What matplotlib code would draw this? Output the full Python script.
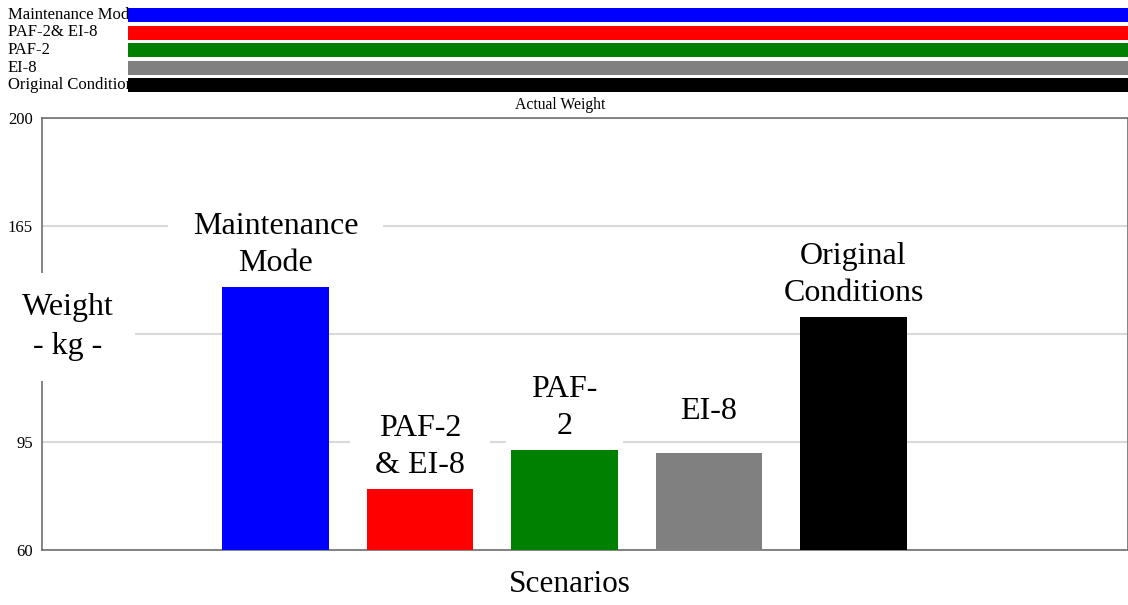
import matplotlib
matplotlib.use("Agg")
import matplotlib.pyplot as plt
import matplotlib.transforms as mtransforms
from matplotlib.path import Path

# scenario data
scenarios = ["Maintenance Mode", "PAF-2& EI-8", "PAF-2", "EI-8", "Original Conditions"]
bar_labels = ["Maintenance\nMode", "PAF-2\n& EI-8", "PAF-\n2", "EI-8", "Original\nConditions"]
weights = [145.3, 79.8, 92.4, 91.4, 135.6]
colors = ["#0000ff", "#ff0000", "#008000", "#808080", "#000000"]
y_ticks = [60, 95, 165, 200]
hidden_tick = [130]  # grid line only, its label sits under the axis title

plt.rcParams["font.family"] = ["Liberation Serif", "DejaVu Serif"]


def wide_box(x0, y0, width, height, mutation_size):
    # white box wider than it is tall, like the original label boxes
    px, py = 0.78 * mutation_size, 0.2 * mutation_size
    x0, y0 = x0 - px, y0 - py
    x1, y1 = x0 + width + 2 * px, y0 + height + 2 * py
    return Path([(x0, y0), (x1, y0), (x1, y1), (x0, y1), (x0, y0)], closed=True)


W, H = 1128, 605
fig = plt.figure(figsize=(W / 100, H / 100), dpi=100)

# main axes, placed in pixels
ax = fig.add_axes([42 / W, (H - 550) / H, 1086 / W, 432 / H])
x = list(range(len(scenarios)))
ax.bar(x, weights, width=0.735, color=colors, zorder=3)
ax.set_xlim(-1.616, 5.9)
ax.set_ylim(60, 200)
ax.set_yticks(y_ticks)
ax.set_yticks(hidden_tick, minor=True)
ax.set_xticks([])
ax.tick_params(axis="y", which="both", length=0, pad=6.5, labelsize=12)
ax.grid(axis="y", which="both", color="#d9d9d9", linewidth=1.5, zorder=0)
for s in ax.spines.values():
    s.set_color("#707070")
    s.set_linewidth(1.2)
    s.set_zorder(2)

# labels above each bar, with white boxes hiding the grid
for xi, val, lab in zip(x, weights, bar_labels):
    ax.annotate(lab, (xi, val), xytext=(0, 42), textcoords="offset pixels",
                ha="center", va="center", fontsize=23, linespacing=1.38,
                zorder=2.5,
                bbox=dict(boxstyle=wide_box, fc="white", ec="none"))

# y label covering the spine
ax.text(0.024, 0.516, "Weight\n- kg -", transform=ax.transAxes, ha="center",
        va="center", fontsize=23, linespacing=1.42, zorder=5, clip_on=False,
        bbox=dict(boxstyle="square,pad=0.65", fc="white", ec="none"))

fig.text(570 / W, 1 - 584 / H, "Scenarios", ha="center", va="center", fontsize=22.5)
fig.text(560 / W, 1 - 105 / H, "Actual Weight", ha="center", va="center", fontsize=11.3)

# legend strip at the top
leg = fig.add_axes([128 / W, (H - 93.75) / H, 1000 / W, 87.5 / H])
leg.barh(range(len(scenarios)), [1] * len(scenarios), height=0.8, color=colors, zorder=2)
leg.set_xlim(0, 1)
leg.set_ylim(len(scenarios) - 0.5, -0.5)
leg.axis("off")
trans = mtransforms.blended_transform_factory(leg.transAxes, leg.transData)
for i, name in enumerate(scenarios):
    leg.text(-0.12, i, name, transform=trans, ha="left", va="center",
             fontsize=12, zorder=0, clip_on=False)

fig.savefig("out.png", dpi=100)
